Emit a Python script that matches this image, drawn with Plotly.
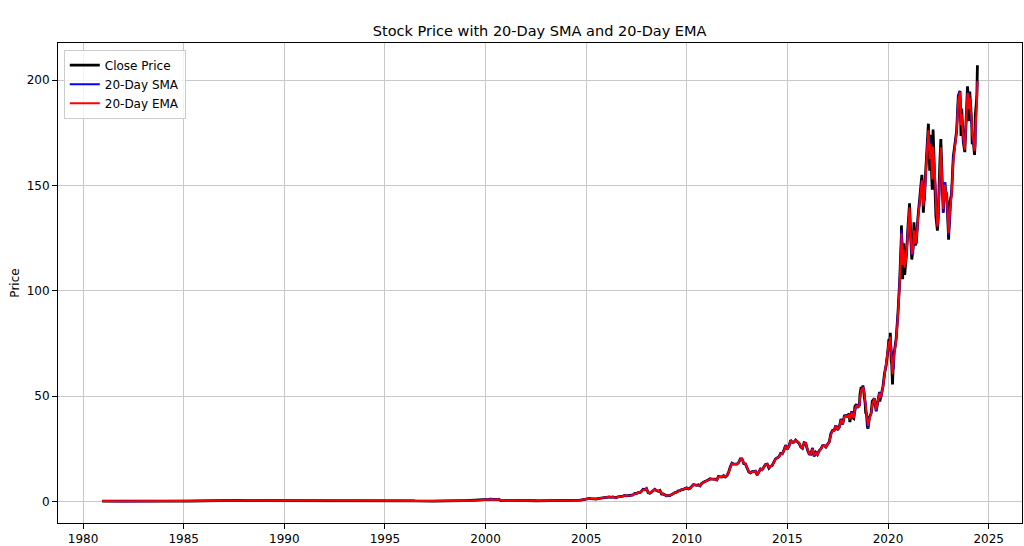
import pandas as pd
import plotly.graph_objects as go

# adjusted close, month ends 1981-01 .. 2017-12 (rough)
first_dates = ["1980-12-12", "1980-12-31"]
first_close = [0.10, 0.12]

monthly_close = [
	0.11, 0.10, 0.09, 0.10, 0.10, 0.10, 0.09, 0.09, 0.07, 0.08, 0.08, 0.07,  # 1981
	0.06, 0.06, 0.06, 0.06, 0.06, 0.06, 0.06, 0.07, 0.08, 0.10, 0.11, 0.10,  # 1982
	0.13, 0.15, 0.17, 0.18, 0.19, 0.17, 0.12, 0.10, 0.09, 0.08, 0.09, 0.09,  # 1983
	0.10, 0.10, 0.11, 0.11, 0.10, 0.10, 0.10, 0.11, 0.10, 0.10, 0.09, 0.11,  # 1984
	0.11, 0.10, 0.08, 0.08, 0.07, 0.07, 0.07, 0.06, 0.06, 0.07, 0.08, 0.09,  # 1985
	0.09, 0.09, 0.10, 0.11, 0.12, 0.13, 0.12, 0.13, 0.12, 0.14, 0.16, 0.17,  # 1986
	0.22, 0.27, 0.27, 0.29, 0.30, 0.28, 0.33, 0.41, 0.43, 0.35, 0.32, 0.32,  # 1987
	0.33, 0.35, 0.33, 0.33, 0.36, 0.36, 0.36, 0.33, 0.34, 0.33, 0.32, 0.32,  # 1988
	0.28, 0.28, 0.28, 0.33, 0.35, 0.31, 0.32, 0.36, 0.35, 0.35, 0.33, 0.28,  # 1989
	0.27, 0.27, 0.32, 0.31, 0.33, 0.34, 0.34, 0.29, 0.23, 0.22, 0.28, 0.33,  # 1990
	0.43, 0.45, 0.53, 0.39, 0.35, 0.33, 0.40, 0.42, 0.37, 0.42, 0.41, 0.45,  # 1991
	0.52, 0.50, 0.48, 0.48, 0.45, 0.42, 0.36, 0.38, 0.38, 0.42, 0.45, 0.48,  # 1992
	0.46, 0.43, 0.42, 0.40, 0.42, 0.32, 0.24, 0.23, 0.20, 0.25, 0.24, 0.23,  # 1993
	0.27, 0.27, 0.31, 0.29, 0.23, 0.21, 0.26, 0.29, 0.27, 0.31, 0.31, 0.31,  # 1994
	0.33, 0.31, 0.29, 0.32, 0.35, 0.37, 0.37, 0.35, 0.30, 0.28, 0.31, 0.26,  # 1995
	0.21, 0.20, 0.20, 0.19, 0.21, 0.17, 0.13, 0.17, 0.17, 0.19, 0.18, 0.17,  # 1996
	0.12, 0.12, 0.15, 0.13, 0.13, 0.12, 0.17, 0.17, 0.17, 0.14, 0.14, 0.10,  # 1997
	0.14, 0.19, 0.21, 0.23, 0.23, 0.23, 0.31, 0.27, 0.30, 0.29, 0.31, 0.32,  # 1998
	0.35, 0.29, 0.28, 0.36, 0.36, 0.36, 0.43, 0.48, 0.50, 0.62, 0.72, 0.79,  # 1999
	0.79, 0.89, 1.04, 0.94, 0.65, 0.80, 0.78, 0.93, 0.39, 0.30, 0.26, 0.23,  # 2000
	0.33, 0.28, 0.34, 0.39, 0.30, 0.35, 0.28, 0.28, 0.24, 0.27, 0.33, 0.34,  # 2001
	0.38, 0.33, 0.36, 0.37, 0.36, 0.27, 0.23, 0.23, 0.22, 0.25, 0.24, 0.22,  # 2002
	0.22, 0.23, 0.22, 0.22, 0.28, 0.29, 0.32, 0.35, 0.32, 0.35, 0.32, 0.33,  # 2003
	0.35, 0.36, 0.42, 0.39, 0.43, 0.50, 0.50, 0.53, 0.60, 0.80, 0.99, 0.99,  # 2004
	1.17, 1.37, 1.27, 1.10, 1.21, 1.10, 1.29, 1.41, 1.63, 1.75, 2.07, 2.18,  # 2005
	2.30, 2.08, 1.90, 2.11, 1.81, 1.73, 2.06, 2.04, 2.34, 2.47, 2.81, 2.58,  # 2006
	2.61, 2.71, 2.83, 3.02, 3.72, 3.71, 4.09, 4.15, 4.67, 5.66, 5.50, 6.05,  # 2007
	4.11, 3.81, 4.36, 5.26, 5.70, 5.08, 4.81, 5.16, 3.46, 3.46, 2.82, 2.59,  # 2008
	2.74, 2.72, 3.19, 3.80, 4.12, 4.31, 4.93, 5.05, 5.61, 5.71, 6.01, 6.35,  # 2009
	5.86, 6.19, 7.08, 7.89, 7.75, 7.60, 7.82, 7.33, 8.58, 9.13, 9.45, 9.73,  # 2010
	10.26, 10.68, 10.55, 10.55, 10.50, 10.16, 11.80, 11.61, 11.55, 12.24, 11.55, 12.20,  # 2011
	13.80, 16.35, 18.12, 17.67, 17.61, 17.66, 18.44, 20.15, 20.14, 17.95, 17.71, 16.08,  # 2012
	13.88, 13.52, 14.04, 14.07, 14.33, 12.45, 14.03, 15.35, 15.03, 16.27, 17.52, 17.67,  # 2013
	15.78, 16.61, 17.00, 18.62, 20.11, 20.64, 21.14, 22.77, 22.58, 24.29, 26.62, 24.77,  # 2014
	26.26, 28.99, 28.00, 28.12, 29.07, 28.32, 27.62, 25.86, 25.16, 27.86, 27.64, 24.44,  # 2015
	22.48, 22.38, 25.30, 21.39, 23.22, 22.18, 24.03, 24.90, 26.40, 26.55, 25.80, 27.08,  # 2016
	28.31, 32.04, 33.67, 33.73, 36.04, 33.93, 35.20, 39.05, 36.55, 40.57, 40.73, 40.15,  # 2017
]

recent_dates = [
	"2018-01-02", "2018-01-26", "2018-02-08", "2018-03-12", "2018-04-02", "2018-04-20",
	"2018-05-10", "2018-06-06", "2018-07-02", "2018-07-31", "2018-08-10", "2018-08-31",
	"2018-09-20", "2018-10-03", "2018-10-24", "2018-11-12", "2018-11-23", "2018-12-04",
	"2018-12-24", "2019-01-03", "2019-01-31", "2019-02-28", "2019-03-21", "2019-04-30",
	"2019-05-31", "2019-06-28", "2019-07-31", "2019-08-05", "2019-08-30", "2019-09-30",
	"2019-10-31", "2019-11-29", "2019-12-31", "2020-01-17", "2020-01-31", "2020-02-12",
	"2020-02-28", "2020-03-09", "2020-03-23", "2020-04-14", "2020-04-30", "2020-05-29",
	"2020-06-30", "2020-07-31", "2020-08-31", "2020-09-01", "2020-09-23", "2020-10-12",
	"2020-10-30", "2020-11-30", "2020-12-31", "2021-01-26", "2021-02-26", "2021-03-08",
	"2021-03-31", "2021-04-16", "2021-05-12", "2021-05-28", "2021-06-30", "2021-07-30",
	"2021-08-31", "2021-09-07", "2021-10-04", "2021-10-29", "2021-11-30", "2021-12-13",
	"2021-12-31", "2022-01-03", "2022-01-27", "2022-02-09", "2022-02-24", "2022-03-14",
	"2022-03-29", "2022-04-29", "2022-05-20", "2022-06-16", "2022-06-30", "2022-07-29",
	"2022-08-17", "2022-09-30", "2022-10-31", "2022-11-10", "2022-12-01", "2022-12-30",
	"2023-01-05", "2023-01-31", "2023-02-28", "2023-03-31", "2023-04-28", "2023-05-31",
	"2023-06-30", "2023-07-31", "2023-08-18", "2023-08-31", "2023-09-29", "2023-10-26",
	"2023-11-30", "2023-12-14", "2023-12-29", "2024-01-05", "2024-01-24", "2024-02-29",
	"2024-03-08", "2024-03-28", "2024-04-19", "2024-04-30", "2024-05-03", "2024-05-31",
	"2024-06-11",
]
recent_close = [
	40.8, 41.6, 37.6, 42.7, 39.6, 39.3,
	45.0, 46.0, 44.5, 45.6, 50.8, 54.2,
	53.0, 55.0, 51.4, 46.5, 41.6, 42.2,
	35.3, 34.5, 40.1, 41.7, 47.5, 48.9,
	42.8, 48.0, 51.9, 47.4, 50.8, 54.2,
	60.9, 64.5, 71.8, 77.0, 75.5, 80.0,
	66.7, 65.0, 55.5, 70.5, 71.9, 77.5,
	89.5, 104.5, 126.4, 131.0, 105.5, 122.5,
	107.5, 117.0, 131.0, 141.5, 119.5, 114.8,
	120.5, 132.5, 121.5, 123.0, 135.5, 144.0,
	149.5, 155.0, 137.0, 148.5, 163.5, 173.0,
	175.5, 179.3, 157.0, 174.0, 160.0, 148.0,
	176.5, 155.5, 135.0, 128.5, 135.5, 160.0,
	172.0, 137.0, 151.5, 145.5, 146.5, 128.5,
	124.2, 142.5, 146.0, 163.5, 168.5, 176.0,
	192.5, 194.8, 173.5, 186.5, 170.5, 165.8,
	188.5, 197.0, 191.5, 180.5, 194.5, 179.5,
	169.5, 171.0, 164.5, 170.0, 183.0, 192.0,
	207.0,
]

######################################################################################

month_ends = pd.date_range("1981-01-01", periods=len(monthly_close), freq="ME")
dates = list(pd.to_datetime(first_dates)) + list(month_ends) + list(pd.to_datetime(recent_dates))
close = pd.Series(first_close + monthly_close + recent_close, index=pd.DatetimeIndex(dates))

# 20 trading days ~ 28 calendar days, ema span 20 ~ halflife of 10 days
sma = close.rolling("28D").mean()
ema = close.ewm(halflife="10D", times=close.index).mean()

fig = go.Figure()
fig.add_trace(go.Scatter(x=close.index, y=close.values, mode="lines", name="Close Price",
	line=dict(color="black", width=2.8)))
fig.add_trace(go.Scatter(x=sma.index, y=sma.values, mode="lines", name="20-Day SMA",
	line=dict(color="blue", width=2)))
fig.add_trace(go.Scatter(x=ema.index, y=ema.values, mode="lines", name="20-Day EMA",
	line=dict(color="red", width=2)))

axis_style = dict(
	showline=True, linecolor="black", linewidth=1, mirror=True,
	ticks="outside", ticklen=5, tickcolor="black", automargin=False,
	showgrid=True, gridcolor="#c8c8c8", gridwidth=1, zeroline=False,
	tickfont=dict(size=12, color="black"))

fig.update_xaxes(type="date", range=["1978-10-04", "2026-08-29"],
	tick0="1980-01-01", dtick="M60", tickformat="%Y", **axis_style)
fig.update_yaxes(range=[-10.3, 217.6], tick0=0, dtick=50,
	title=dict(text="Price", font=dict(size=12, color="black"), standoff=4), **axis_style)

fig.update_layout(
	width=1024, height=546,
	margin=dict(l=58, r=2, t=43, b=23, autoexpand=False),
	paper_bgcolor="white", plot_bgcolor="white",
	font=dict(family="DejaVu Sans", size=12, color="black"),
	title=dict(text="Stock Price with 20-Day SMA and 20-Day EMA", x=0.527, xanchor="center",
		y=0.943, yanchor="middle", font=dict(size=14.5, color="black")),
	legend=dict(x=0.006, y=0.986, xanchor="left", yanchor="top",
		bgcolor="rgba(255,255,255,0.8)", bordercolor="#cccccc", borderwidth=1,
		font=dict(size=12), tracegroupgap=0),
	showlegend=True)

# page body has a default 8px margin, drop it so the figure sits at 0,0
fig.write_html("out.html", config={"displayModeBar": False},
	post_script="document.body.style.margin='0px';")
